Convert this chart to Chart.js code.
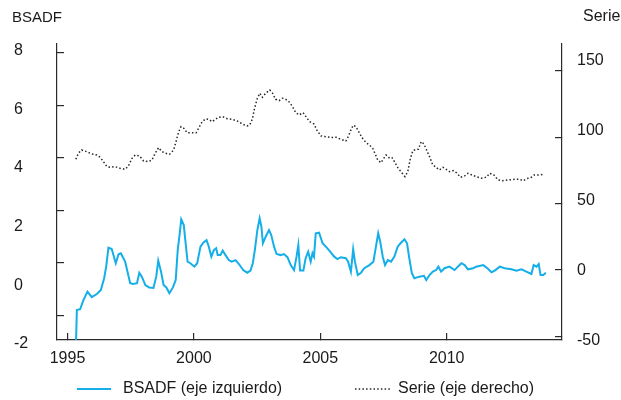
<!DOCTYPE html>
<html>
<head>
<meta charset="utf-8">
<script src="https://cdn.jsdelivr.net/npm/chart.js@4.4.0/dist/chart.umd.min.js"></script>
<style>
  html, body { margin: 0; padding: 0; background: #ffffff; }
  #wrap { width: 621px; height: 400px; position: relative; }
</style>
</head>
<body>
<div id="wrap"><canvas id="c" width="621" height="400"></canvas></div>
<script>
// ---------------- DATA ----------------
const bsadfYears = [1995.33,1995.37,1995.50,1995.63,1995.79,1995.96,1996.16,1996.32,1996.45,1996.53,
  1996.62,1996.75,1996.91,1997.02,1997.11,1997.28,1997.48,1997.59,1997.75,1997.84,
  1997.94,1998.08,1998.23,1998.40,1998.51,1998.59,1998.70,1998.80,1998.91,1999.03,
  1999.17,1999.28,1999.36,1999.44,1999.50,1999.60,1999.66,1999.75,1999.86,2000.02,
  2000.13,2000.26,2000.37,2000.50,2000.59,2000.69,2000.79,2000.88,2000.94,2001.05,
  2001.14,2001.25,2001.38,2001.49,2001.65,2001.78,2001.95,2002.11,2002.24,2002.33,
  2002.41,2002.51,2002.60,2002.67,2002.73,2002.84,2002.97,2003.06,2003.17,2003.27,
  2003.43,2003.56,2003.70,2003.83,2003.96,2004.06,2004.13,2004.20,2004.33,2004.42,
  2004.52,2004.62,2004.69,2004.75,2004.82,2004.95,2005.09,2005.22,2005.39,2005.55,
  2005.68,2005.81,2006.01,2006.10,2006.21,2006.30,2006.37,2006.48,2006.61,2006.74,
  2006.94,2007.10,2007.20,2007.29,2007.37,2007.47,2007.56,2007.67,2007.80,2007.93,
  2008.06,2008.19,2008.33,2008.43,2008.52,2008.62,2008.72,2008.92,2009.10,2009.19,
  2009.32,2009.45,2009.58,2009.67,2009.78,2009.91,2010.11,2010.31,2010.44,2010.58,
  2010.71,2010.84,2011.04,2011.17,2011.44,2011.61,2011.77,2011.90,2012.10,2012.29,
  2012.56,2012.76,2012.96,2013.15,2013.35,2013.44,2013.55,2013.64,2013.71,2013.82,
  2013.92];
const bsadfValues = [-3.3,-1.79,-1.76,-1.41,-1.09,-1.30,-1.18,-1.03,-0.58,-0.14,
  0.58,0.53,-0.01,0.33,0.37,0.05,-0.77,-0.80,-0.77,-0.37,
  -0.52,-0.84,-0.93,-0.95,-0.52,0.09,-0.33,-0.84,-0.93,-1.15,
  -0.93,-0.65,0.49,1.13,1.66,1.44,0.87,0.05,-0.01,-0.14,
  -0.01,0.62,0.77,0.87,0.62,0.24,0.49,0.56,0.30,0.30,
  0.47,0.30,0.11,0.05,0.11,-0.04,-0.27,-0.37,-0.29,-0.01,
  0.49,1.25,1.70,1.38,0.75,1.00,1.25,1.06,0.62,0.34,
  0.30,0.34,0.22,-0.08,-0.27,0.24,0.68,-0.29,-0.29,0.18,
  0.43,0.05,0.37,0.24,1.13,1.15,0.75,0.62,0.43,0.24,
  0.15,0.22,0.18,0.05,-0.33,0.52,0.05,-0.46,-0.37,-0.20,
  -0.08,0.05,0.62,1.13,0.81,0.24,-0.08,0.11,0.05,0.24,
  0.62,0.77,0.90,0.75,0.18,-0.39,-0.58,-0.52,-0.49,-0.65,
  -0.46,-0.33,-0.27,-0.14,-0.33,-0.20,-0.14,-0.27,-0.14,-0.01,
  -0.08,-0.24,-0.20,-0.14,-0.08,-0.20,-0.35,-0.29,-0.14,-0.20,
  -0.24,-0.29,-0.24,-0.33,-0.42,-0.08,-0.14,-0.04,-0.46,-0.46,
  -0.37];

const serieYears = [1995.33,1995.43,1995.56,1995.76,1995.96,1996.16,1996.29,1996.42,1996.56,1996.69,
  1996.88,1997.08,1997.28,1997.41,1997.55,1997.68,1997.85,1998.01,1998.21,1998.34,
  1998.47,1998.60,1998.74,1998.87,1999.04,1999.20,1999.31,1999.40,1999.49,1999.60,
  1999.73,1999.93,2000.09,2000.22,2000.33,2000.46,2000.59,2000.72,2000.85,2000.98,
  2001.14,2001.32,2001.52,2001.71,2001.91,2002.11,2002.21,2002.31,2002.40,2002.51,
  2002.61,2002.71,2002.84,2003.00,2003.10,2003.23,2003.37,2003.50,2003.63,2003.76,
  2003.90,2004.03,2004.16,2004.32,2004.45,2004.58,2004.75,2004.86,2005.02,2005.22,
  2005.42,2005.62,2005.81,2006.01,2006.12,2006.21,2006.30,2006.41,2006.54,2006.67,
  2006.81,2006.94,2007.07,2007.16,2007.27,2007.40,2007.51,2007.60,2007.71,2007.83,
  2007.93,2008.06,2008.19,2008.35,2008.46,2008.55,2008.66,2008.79,2008.88,2008.99,
  2009.10,2009.19,2009.32,2009.45,2009.58,2009.71,2009.85,2009.98,2010.11,2010.25,
  2010.38,2010.55,2010.71,2010.84,2011.00,2011.17,2011.37,2011.57,2011.70,2011.87,
  2012.03,2012.20,2012.43,2012.69,2012.89,2013.02,2013.22,2013.35,2013.46,2013.62,
  2013.86];
const serieValues = [83.5,88.0,90.5,89.2,87.5,86.7,85.0,81.7,77.9,77.4,
  77.9,76.7,75.9,78.4,84.2,86.7,86.0,82.2,81.7,83.0,
  88.0,92.2,89.2,88.0,87.3,90.5,98.0,104.3,108.1,106.9,
  103.5,103.5,103.5,108.1,111.8,113.9,113.6,111.8,113.6,115.2,
  115.6,114.1,113.6,112.4,110.1,108.6,109.4,113.6,121.9,129.5,
  133.3,130.2,133.3,135.7,133.7,128.7,127.7,129.5,128.7,126.9,
  123.2,118.6,116.9,118.6,115.2,111.8,110.1,105.6,101.1,100.5,
  99.8,100.1,98.6,97.3,101.1,105.6,109.1,108.1,103.5,99.3,
  96.0,94.3,91.8,88.0,83.0,80.9,84.2,86.7,84.7,85.0,
  81.7,77.4,74.1,70.4,74.1,83.0,90.0,91.0,91.0,96.8,
  95.0,91.0,85.5,79.2,77.4,75.4,77.4,75.9,74.1,74.9,
  73.4,69.9,70.9,72.9,71.6,70.4,69.2,69.9,72.9,71.6,
  67.9,67.3,67.9,68.4,68.4,67.3,69.2,69.9,71.6,71.6,
  72.2];

const xTicks = [1995, 2000, 2005, 2010];
const leftTicks = [-2, 0, 2, 4, 6, 8];
const rightTicks = [-50, 0, 50, 100, 150];
const seriesLabels = ['BSADF (eje izquierdo)', 'Serie (eje derecho)'];
const axisTitles = ['BSADF', 'Serie'];

// ---------------- STYLE ----------------
const FONT = "'Liberation Sans', Arial, Helvetica, sans-serif";
const TEXT = '#1a1a1a';
const AXIS = '#2b2b2b';
const BLUE = '#14aee8';
const DOTS = '#262626';

Chart.defaults.font.family = FONT;
Chart.defaults.font.size = 16;
Chart.defaults.color = TEXT;

const setTicks = (vals) => (scale) => { scale.ticks = vals.map(v => ({ value: v })); };
const fixWidth = (w) => (scale) => { scale.width = w; };
const label = (v) => String(v);

const axisGrid = { drawOnChartArea: false, color: AXIS, lineWidth: 1.2, tickLength: -7 };
const axisBorder = { display: true, color: AXIS, width: 1.2 };

const decor = {
  id: 'decor',
  afterDraw(chart) {
    const ctx = chart.ctx;
    ctx.save();
    ctx.fillStyle = TEXT;
    ctx.textBaseline = 'middle';
    ctx.textAlign = 'left';
    ctx.font = '15px ' + FONT;
    ctx.fillText(axisTitles[0], 12, 18);
    ctx.font = '16px ' + FONT;
    ctx.fillText(axisTitles[1], 583, 17);
    const items = [{ x0: 77, x1: 111, tx: 123 }, { x0: 355, x1: 390, tx: 398 }];
    const ly = 389;
    chart.data.datasets.forEach((ds, i) => {
      const it = items[i];
      ctx.save();
      ctx.strokeStyle = ds.borderColor;
      ctx.lineWidth = ds.borderWidth;
      ctx.setLineDash(ds.borderDash || []);
      ctx.beginPath();
      ctx.moveTo(it.x0, ly);
      ctx.lineTo(it.x1, ly);
      ctx.stroke();
      ctx.restore();
      ctx.fillText(ds.label, it.tx, ly);
    });
    ctx.restore();
  }
};

new Chart(document.getElementById('c'), {
  type: 'line',
  data: {
    datasets: [
      {
        label: seriesLabels[0],
        data: bsadfYears.map((x, i) => ({ x: x, y: bsadfValues[i] })),
        yAxisID: 'y',
        borderColor: BLUE,
        borderWidth: 2,
        pointRadius: 0,
        tension: 0,
        fill: false
      },
      {
        label: seriesLabels[1],
        data: serieYears.map((x, i) => ({ x: x, y: serieValues[i] })),
        yAxisID: 'yR',
        borderColor: DOTS,
        borderWidth: 1.5,
        borderDash: [1.5, 2.2],
        pointRadius: 0,
        tension: 0,
        fill: false
      }
    ]
  },
  options: {
    responsive: false,
    animation: false,
    devicePixelRatio: 1,
    layout: { padding: { left: 14, top: 44, right: 0, bottom: 0 } },
    plugins: { legend: { display: false }, tooltip: { enabled: false } },
    scales: {
      x: {
        type: 'linear', position: 'bottom', min: 1994.585, max: 2014.56,
        afterBuildTicks: setTicks(xTicks),
        afterFit: (s) => { s.height = 60; },
        grid: axisGrid, border: axisBorder,
        ticks: { padding: 16, autoSkip: false, maxRotation: 0, callback: label }
      },
      y: {
        type: 'linear', position: 'left', weight: 0, min: -2.93, max: 8.33,
        afterBuildTicks: setTicks(leftTicks), afterFit: fixWidth(0),
        grid: axisGrid, border: axisBorder,
        ticks: { display: false }
      },
      yLab: {
        type: 'linear', position: 'left', weight: 1, min: -1.869, max: 8.223,
        afterBuildTicks: setTicks(leftTicks), afterFit: fixWidth(43),
        grid: { display: false, drawTicks: false }, border: { display: false },
        ticks: { crossAlign: 'far', autoSkip: false, callback: label }
      },
      yR: {
        type: 'linear', position: 'right', weight: 0, min: -52.8, max: 170.4,
        afterBuildTicks: setTicks(rightTicks), afterFit: fixWidth(0),
        grid: axisGrid, border: axisBorder,
        ticks: { display: false }
      },
      yRLab: {
        type: 'linear', position: 'right', weight: 1, min: -49.71, max: 161.71,
        afterBuildTicks: setTicks(rightTicks), afterFit: fixWidth(59),
        grid: { display: false, drawTicks: false }, border: { display: false },
        ticks: { padding: 15, crossAlign: 'near', autoSkip: false, callback: label }
      }
    }
  },
  plugins: [decor]
});
</script>
</body>
</html>
